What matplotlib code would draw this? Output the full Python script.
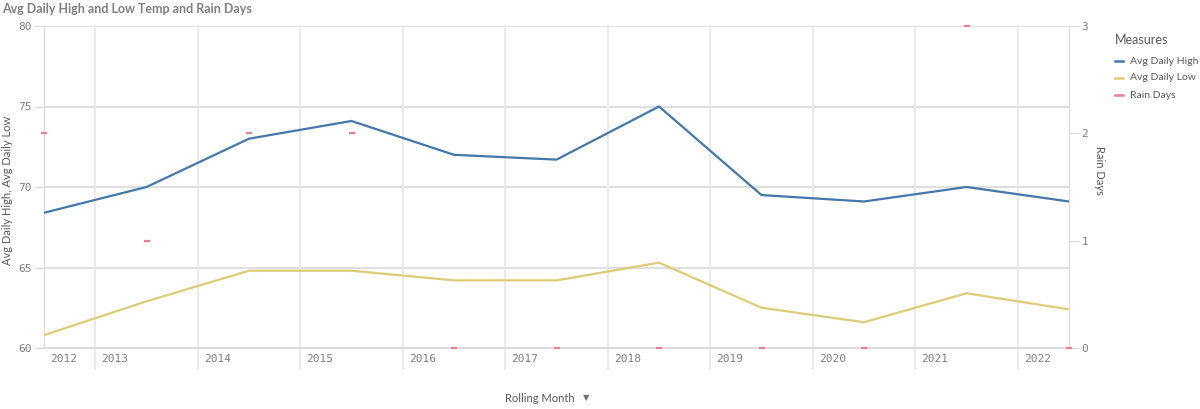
import matplotlib.pyplot as plt
import matplotlib.transforms as mtransforms
from matplotlib.lines import Line2D

# data (one point per rolling year, placed mid-year)
years = [2012, 2013, 2014, 2015, 2016, 2017, 2018, 2019, 2020, 2021, 2022]
avg_high = [68.4, 70.0, 73.0, 74.1, 72.0, 71.7, 75.0, 69.5, 69.1, 70.0, 69.1]
avg_low = [60.8, 62.9, 64.8, 64.8, 64.2, 64.2, 65.3, 62.5, 61.6, 63.4, 62.4]
rain_days = [2, 1, 2, 2, 0, 0, 0, 0, 0, 3, 0]
tick_years = [2012, 2013, 2014, 2015, 2016, 2017, 2018, 2019, 2020, 2021, 2022]
measures = ['Avg Daily High', 'Avg Daily Low', 'Rain Days']

c_high = '#4477aa'
c_low = '#ddcc77'
c_rain = '#ee7d8d'
grey_txt = '#7f7f7f'
dark_txt = '#595959'
grid_c = '#e8e8e8'

xs = [y + 0.5 for y in years]

fig = plt.figure(figsize=(12, 4.09), dpi=100)
ax = fig.add_axes([44 / 1200, 1 - 348 / 409, (1069 - 44) / 1200, (348 - 26) / 409])
ax2 = ax.twinx()

ax.plot(xs, avg_high, color=c_high, lw=1.6, zorder=3)
ax.plot(xs, avg_low, color=c_low, lw=1.6, zorder=3)
ax2.plot(xs, rain_days, ls='none', marker='_', ms=5, mew=1.6, color=c_rain,
         zorder=3, clip_on=False)

ax.set_xlim(xs[0], xs[-1])
ax.set_ylim(60, 80)
ax2.set_ylim(0, 3)
ax.set_yticks([60, 65, 70, 75, 80])
ax2.set_yticks([0, 1, 2, 3])

# grid
for v in [65, 70, 75, 80]:
    ax.axhline(v, color='#d9d9d9', lw=1.2, zorder=1)
blend = mtransforms.blended_transform_factory(ax.transData, ax.transAxes)
for y in tick_years[1:]:
    ax.plot([y, y], [-0.065, 1], color=grid_c, lw=1.2, transform=blend,
            clip_on=False, zorder=1)
    ax.text(y + 0.06, -0.035, str(y), transform=blend, ha='left', va='center',
            fontsize=8, family='DejaVu Sans Mono', color=grey_txt)
ax.text(xs[0] + 0.06, -0.035, str(tick_years[0]), transform=blend, ha='left',
        va='center', fontsize=8, family='DejaVu Sans Mono', color=grey_txt)
ax.set_xticks([])

for a in (ax, ax2):
    for s in a.spines.values():
        s.set_visible(False)
ax.spines['left'].set_visible(True)
ax.spines['left'].set_color('#d9d9d9')
ax.spines['bottom'].set_visible(True)
ax.spines['bottom'].set_color('#d9d9d9')
ax.spines['bottom'].set_linewidth(1.4)
ax2.spines['right'].set_visible(True)
ax2.spines['right'].set_color('#d9d9d9')

ax.tick_params(axis='y', length=7, color='#d9d9d9', labelsize=8, labelcolor=grey_txt, pad=2)
ax2.tick_params(axis='y', length=7, color='#d9d9d9', labelsize=8, labelcolor=grey_txt, pad=2)
for lab in ax.get_yticklabels() + ax2.get_yticklabels():
    lab.set_family('DejaVu Sans Mono')

fig.text(8 / 1200, 1 - 190 / 409, 'Avg Daily High, Avg Daily Low', fontsize=8,
         color=dark_txt, family='Lato', rotation=90, ha='center', va='center')
fig.text(1100 / 1200, 1 - 170 / 409, 'Rain Days', fontsize=8, color=dark_txt,
         family='Lato', rotation=270, ha='center', va='center')

fig.text(2 / 1200, 1 - 9 / 409, 'Avg Daily High and Low Temp and Rain Days',
         fontsize=9, fontweight='bold', family='Lato', color='#808080',
         ha='left', va='center')
fig.text(575 / 1200, 1 - 398 / 409, 'Rolling Month', fontsize=8, family='Lato',
         color=dark_txt, ha='right', va='center')
fig.text(586 / 1200, 1 - 398 / 409, '\u25bc', fontsize=6, family='DejaVu Sans',
         color='#707070', ha='center', va='center')

# legend
fig.text(1115 / 1200, 1 - 40 / 409, 'Measures', fontsize=9, family='Lato',
         color=dark_txt, ha='left', va='center')
for i, (name, col) in enumerate(zip(measures, [c_high, c_low, c_rain])):
    yy = 1 - (61 + 17 * i) / 409
    fig.add_artist(Line2D([1115 / 1200, 1123 / 1200], [yy, yy], color=col, lw=1.8))
    fig.text(1130 / 1200, yy, name, fontsize=7.5, family='Lato', color=dark_txt,
             ha='left', va='center')

fig.savefig('out.png', dpi=100)
